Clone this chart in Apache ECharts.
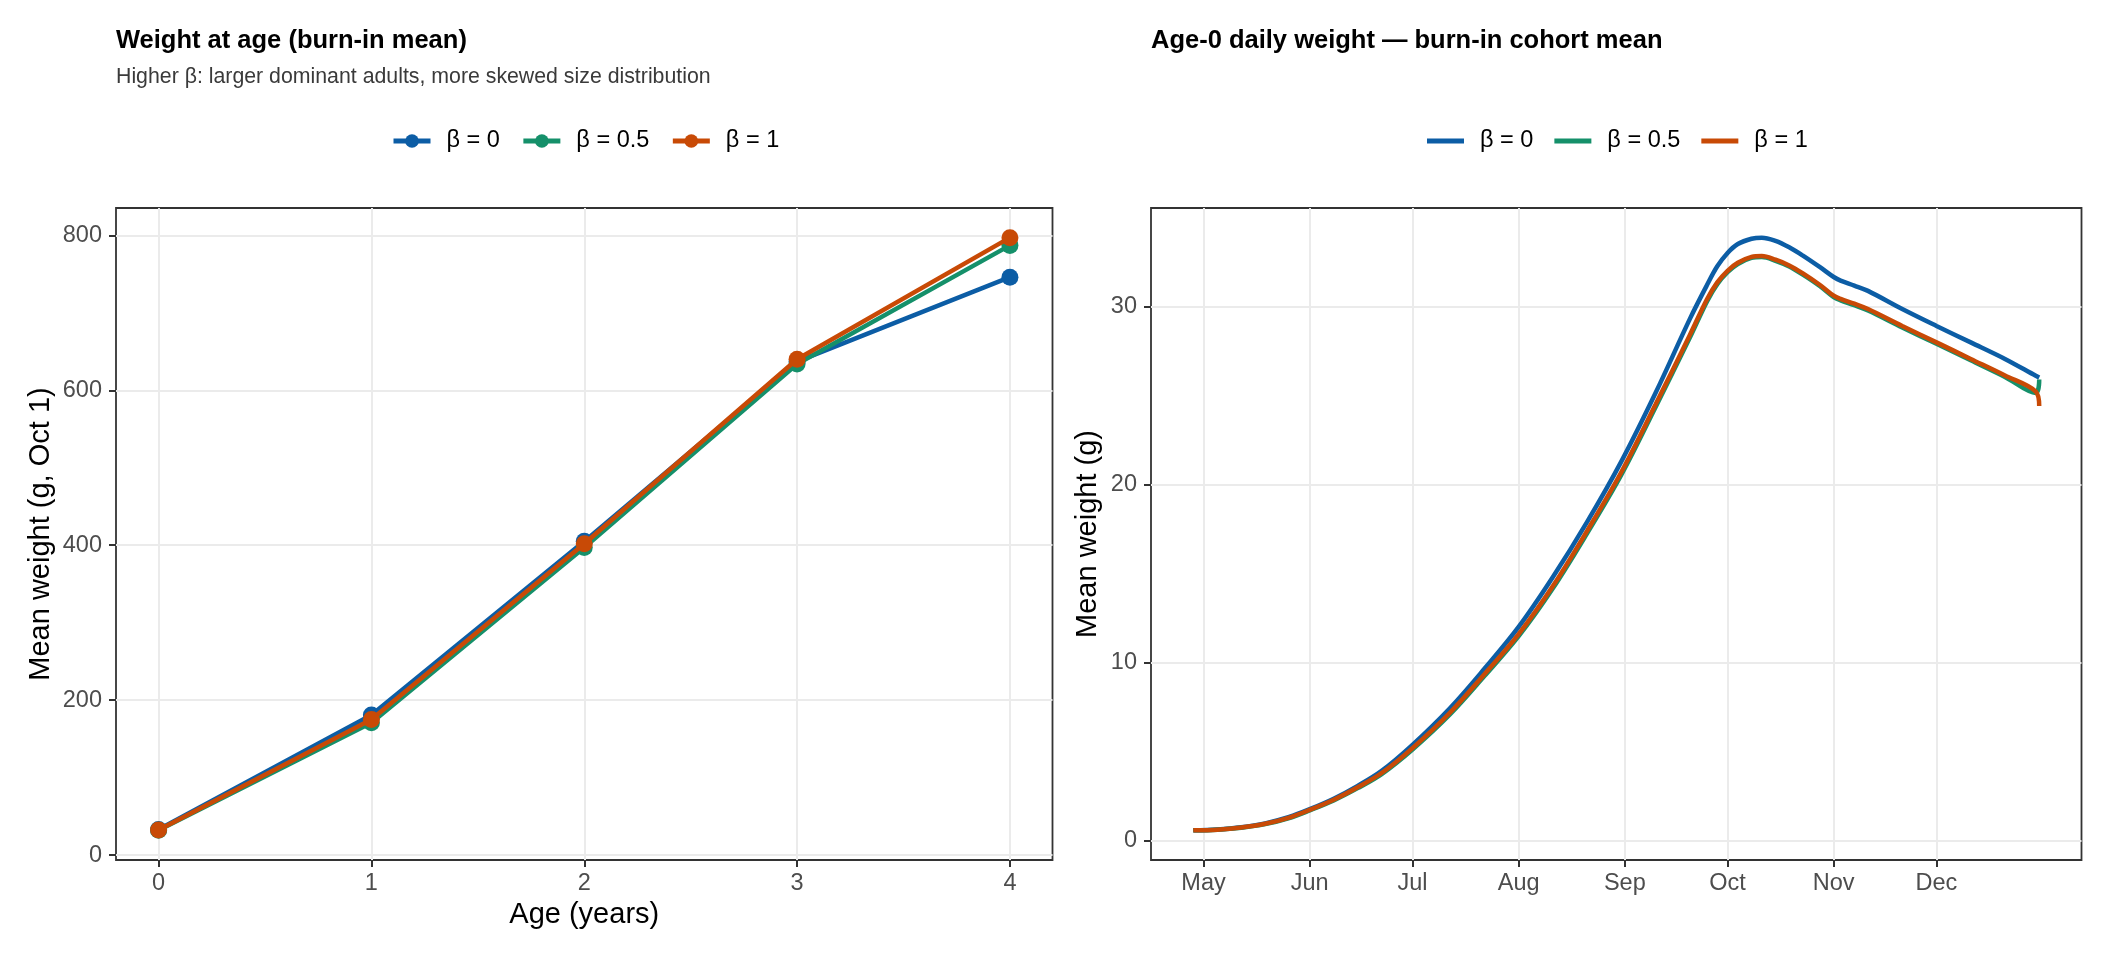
<!DOCTYPE html>
<html>
<head>
<meta charset="utf-8">
<script src="https://cdn.jsdelivr.net/npm/echarts@6/dist/echarts.min.js"></script>
<style>
html,body{margin:0;padding:0;background:#fff;}
#chart{width:2112px;height:960px;}
</style>
</head>
<body>
<div id="chart"></div>
<script>
// ---------- data ----------
const seriesNames = ['β = 0', 'β = 0.5', 'β = 1'];
const seriesColors = ['#0C5DA5', '#15906A', '#C84A06'];

// Panel 1: weight at age (Oct 1)
const ages = [0, 1, 2, 3, 4];
const ageTicks = [0, 1, 2, 3, 4];
const weightTicks = [0, 200, 400, 600, 800];
const ageBeta0 = [33, 181, 405, 637, 746];
const ageBeta05 = [32, 171, 397, 634, 787];
const ageBeta1 = [32.5, 175, 402, 640, 797];

// Panel 2: age-0 daily weight (dates in 2001)
const year = 2001;
const dailyDates = ['04-28','05-05','05-12','05-19','05-26','06-01','06-08','06-15','06-22','07-01',
  '07-12','07-22','08-01','08-11','08-21','08-31','09-10','09-20','09-25','09-28',
  '10-01','10-04','10-08','10-11','10-15','10-19','10-23','10-28','11-01','11-03',
  '11-07','11-11','11-21','12-01','12-11','12-21','12-30','12-31'];
const dailyBeta0 = [0.58,0.63,0.75,0.97,1.33,1.77,2.36,3.08,3.92,5.38,
  7.45,9.65,12.0,14.8,17.9,21.3,25.15,29.3,31.2,32.25,
  33.0,33.5,33.8,33.86,33.68,33.32,32.85,32.2,31.65,31.45,
  31.17,30.87,29.85,28.9,27.98,27.05,26.1,26.0];
const dailyBeta05 = [0.58,0.62,0.73,0.93,1.27,1.70,2.26,2.95,3.74,5.12,
  7.10,9.24,11.48,14.17,17.26,20.55,24.35,28.25,30.28,31.25,
  31.92,32.38,32.72,32.77,32.56,32.24,31.78,31.13,30.52,30.34,
  30.07,29.77,28.82,27.9,26.97,26.04,25.14,25.9];
const dailyBeta1 = [0.58,0.62,0.74,0.95,1.30,1.73,2.30,3.00,3.80,5.20,
  7.20,9.35,11.6,14.3,17.4,20.7,24.5,28.4,30.4,31.35,
  32.0,32.45,32.78,32.83,32.62,32.3,31.85,31.2,30.6,30.42,
  30.15,29.85,28.9,27.98,27.05,26.12,25.22,24.4];
const monthStarts = ['05-01','06-01','07-01','08-01','09-01','10-01','11-01','12-01'];
const monthLabels = ['May','Jun','Jul','Aug','Sep','Oct','Nov','Dec'];
const dailyTicks = [0, 10, 20, 30];

// ---------- helpers ----------
function doy(s) {
  const p = s.split('-').map(Number);
  return (Date.UTC(year, p[0] - 1, p[1]) - Date.UTC(year, 0, 1)) / 864e5 + 1;
}
function expand(arr) {
  const mn = Math.min.apply(null, arr), mx = Math.max.apply(null, arr);
  const pad = (mx - mn) * 0.05;
  return [mn - pad, mx + pad];
}
const FONT = "'Liberation Sans', Arial, Helvetica, sans-serif";
const dailyX = dailyDates.map(doy);
const monthX = monthStarts.map(doy);

const ageX = expand(ages);
const ageY = expand(ageBeta0.concat(ageBeta05, ageBeta1));
const dayX = expand(dailyX);
const dayY = expand(dailyBeta0.concat(dailyBeta05, dailyBeta1));

const gridLine = { show: true, lineStyle: { color: '#EBEBEB', width: 2 } };
const tickStyle = { color: '#333333', width: 2 };
const tickLabel = { fontSize: 23.5, color: '#4D4D4D', fontFamily: FONT };

function axisCommon(extra) {
  return Object.assign({
    type: 'value',
    axisLine: { show: false, onZero: false },
    splitLine: gridLine
  }, extra);
}

const leftData = [ageBeta0, ageBeta05, ageBeta1];
const rightData = [dailyBeta0, dailyBeta05, dailyBeta1];
const rightNames = seriesNames.map(n => n + ' (daily)');

const series = [];
leftData.forEach((vals, i) => {
  series.push({
    name: seriesNames[i], type: 'line', xAxisIndex: 0, yAxisIndex: 0,
    data: ages.map((a, j) => [a, vals[j]]),
    symbol: 'circle', symbolSize: 17, showSymbol: true,
    lineStyle: { width: 4.5, color: seriesColors[i] },
    itemStyle: { color: seriesColors[i], borderWidth: 0 },
    z: 2 + i
  });
});
rightData.forEach((vals, i) => {
  series.push({
    name: rightNames[i], type: 'line', xAxisIndex: 1, yAxisIndex: 1,
    data: dailyX.map((x, j) => [x, vals[j]]),
    symbol: 'none', showSymbol: false, smooth: 0.35,
    lineStyle: { width: 4.5, color: seriesColors[i] },
    itemStyle: { color: seriesColors[i] },
    z: 2 + i
  });
});

const legendText = { fontSize: 23.5, color: '#000', fontFamily: FONT, padding: [0, 0, 0, 11], lineHeight: 24 };

const option = {
  animation: false,
  backgroundColor: '#fff',
  textStyle: { fontFamily: FONT },
  title: [
    { text: 'Weight at age (burn-in mean)', left: 116, top: 28, padding: 0,
      textStyle: { fontSize: 25.5, fontWeight: 'bold', color: '#000', fontFamily: FONT, lineHeight: 26 } },
    { text: 'Higher β: larger dominant adults, more skewed size distribution', left: 116, top: 66, padding: 0,
      textStyle: { fontSize: 21.3, fontWeight: 'normal', color: '#3A3A3A', fontFamily: FONT, lineHeight: 22 } },
    { text: 'Age-0 daily weight — burn-in cohort mean', left: 1151, top: 28, padding: 0,
      textStyle: { fontSize: 25.5, fontWeight: 'bold', color: '#000', fontFamily: FONT, lineHeight: 26 } }
  ],
  legend: [
    { data: seriesNames, left: 391, top: 129, orient: 'horizontal', padding: 0,
      itemWidth: 37, itemHeight: 17, itemGap: 21, selectedMode: false, textStyle: legendText,
      lineStyle: { width: 5 } },
    { data: rightNames, left: 1427, top: 129, orient: 'horizontal', padding: 0, icon: 'rect',
      itemWidth: 37, itemHeight: 5, itemGap: 21, selectedMode: false, textStyle: legendText,
      formatter: n => n.replace(' (daily)', '') }
  ],
  grid: [
    { left: 116, top: 208, width: 936.5, height: 652, show: true, borderColor: '#333333', borderWidth: 1.8, backgroundColor: '#fff' },
    { left: 1151, top: 208, width: 930.5, height: 652, show: true, borderColor: '#333333', borderWidth: 1.8, backgroundColor: '#fff' }
  ],
  xAxis: [
    axisCommon({ gridIndex: 0, min: ageX[0], max: ageX[1],
      name: 'Age (years)', nameLocation: 'middle', nameGap: 40,
      nameTextStyle: { fontSize: 29, color: '#000', fontFamily: FONT },
      axisTick: { show: true, length: 7, lineStyle: tickStyle, customValues: ageTicks },
      axisLabel: Object.assign({ margin: 12, customValues: ageTicks }, tickLabel) }),
    axisCommon({ gridIndex: 1, min: dayX[0], max: dayX[1],
      axisTick: { show: true, length: 7, lineStyle: tickStyle, customValues: monthX },
      axisLabel: Object.assign({ margin: 12, customValues: monthX,
        formatter: v => { const k = monthX.indexOf(v); return k >= 0 ? monthLabels[k] : ''; } }, tickLabel) })
  ],
  yAxis: [
    axisCommon({ gridIndex: 0, min: ageY[0], max: ageY[1],
      name: 'Mean weight (g, Oct 1)', nameLocation: 'middle', nameGap: 61,
      nameTextStyle: { fontSize: 29, color: '#000', fontFamily: FONT },
      axisTick: { show: true, length: 7, lineStyle: tickStyle, customValues: weightTicks },
      axisLabel: Object.assign({ margin: 14, customValues: weightTicks }, tickLabel) }),
    axisCommon({ gridIndex: 1, min: dayY[0], max: dayY[1],
      name: 'Mean weight (g)', nameLocation: 'middle', nameGap: 49,
      nameTextStyle: { fontSize: 29, color: '#000', fontFamily: FONT },
      axisTick: { show: true, length: 7, lineStyle: tickStyle, customValues: dailyTicks },
      axisLabel: Object.assign({ margin: 14, customValues: dailyTicks }, tickLabel) })
  ],
  series: series
};

const chart = echarts.init(document.getElementById('chart'), null, { renderer: 'canvas' });
chart.setOption(option);
</script>
</body>
</html>
